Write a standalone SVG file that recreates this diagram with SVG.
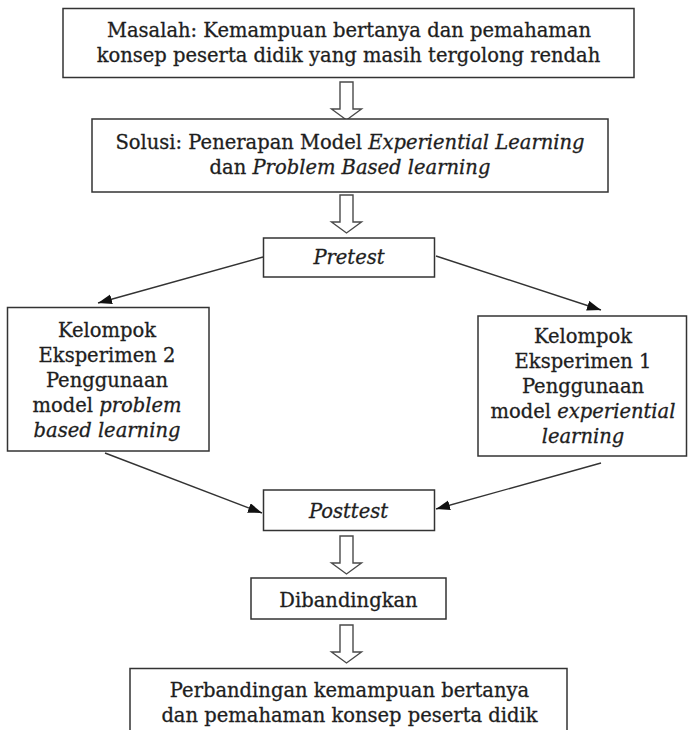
<svg xmlns="http://www.w3.org/2000/svg" width="688" height="730" viewBox="0 0 688 730">
  <defs>
    <style>
      .box { fill: #ffffff; stroke: #333333; stroke-width: 1.5; }
      .txt { font-family: "DejaVu Serif", "Liberation Serif", serif; font-size: 19.5px; fill: #1e1e1e; stroke: #1e1e1e; stroke-width: 0.3; text-anchor: middle; }
      .it { font-style: italic; }
      .blk { fill: #ffffff; stroke: #4a4a4a; stroke-width: 1.4; stroke-linejoin: miter; }
      .con { fill: none; stroke: #333333; stroke-width: 1.4; }
    </style>
    <marker id="ah" markerUnits="userSpaceOnUse" markerWidth="16" markerHeight="12" refX="14" refY="5" orient="auto">
      <path d="M0,0 L14,5 L0,10 Z" fill="#111111"/>
    </marker>
    <path id="blockArrow" d="M-6.5,0 L6.5,0 L6.5,27 L15,27 L0,38 L-15,27 L-6.5,27 Z"/>
  </defs>

  <rect width="688" height="730" fill="#ffffff"/>

  <g id="connectors">
    <use href="#blockArrow" class="blk" x="346.5" y="82"/>
    <use href="#blockArrow" class="blk" x="346.5" y="195"/>
    <use href="#blockArrow" class="blk" x="346.5" y="536"/>
    <use href="#blockArrow" class="blk" x="346.5" y="625"/>
    <line class="con" x1="263" y1="257" x2="98" y2="303" marker-end="url(#ah)"/>
    <line class="con" x1="436" y1="256" x2="601" y2="310" marker-end="url(#ah)"/>
    <line class="con" x1="105" y1="453" x2="262" y2="513" marker-end="url(#ah)"/>
    <line class="con" x1="601" y1="463" x2="436" y2="509" marker-end="url(#ah)"/>
  </g>

  <g id="masalah">
    <rect class="box" x="63" y="8.5" width="571" height="69"/>
    <text class="txt" x="349" y="37">Masalah: Kemampuan bertanya dan pemahaman</text>
    <text class="txt" x="348.5" y="62">konsep peserta didik yang masih tergolong rendah</text>
  </g>

  <g id="solusi">
    <rect class="box" x="92" y="119" width="516" height="73"/>
    <text class="txt" x="350" y="149">Solusi: Penerapan Model <tspan class="it">Experiential Learning</tspan></text>
    <text class="txt" x="350" y="174">dan <tspan class="it">Problem Based learning</tspan></text>
  </g>

  <g id="pretest">
    <rect class="box" x="263.5" y="238" width="171" height="39"/>
    <text class="txt it" x="349" y="264">Pretest</text>
  </g>

  <g id="eksperimen2">
    <rect class="box" x="7.5" y="307.5" width="201.5" height="143.5"/>
    <text class="txt" x="107" y="337">Kelompok</text>
    <text class="txt" x="107" y="362">Eksperimen 2</text>
    <text class="txt" x="107" y="387">Penggunaan</text>
    <text class="txt" x="107" y="412">model <tspan class="it">problem</tspan></text>
    <text class="txt it" x="107" y="437">based learning</text>
  </g>

  <g id="eksperimen1">
    <rect class="box" x="478" y="316" width="208.5" height="140"/>
    <text class="txt" x="583" y="343">Kelompok</text>
    <text class="txt" x="583" y="368">Eksperimen 1</text>
    <text class="txt" x="583" y="393">Penggunaan</text>
    <text class="txt" x="583" y="418">model <tspan class="it">experiential</tspan></text>
    <text class="txt it" x="583" y="443">learning</text>
  </g>

  <g id="posttest">
    <rect class="box" x="263.5" y="490" width="171" height="40.5"/>
    <text class="txt it" x="348.5" y="518">Posttest</text>
  </g>

  <g id="dibandingkan">
    <rect class="box" x="251" y="578" width="195" height="41"/>
    <text class="txt" x="348.5" y="607">Dibandingkan</text>
  </g>

  <g id="perbandingan">
    <rect class="box" x="130" y="668.5" width="437" height="80"/>
    <text class="txt" x="349.5" y="697">Perbandingan kemampuan bertanya</text>
    <text class="txt" x="349.5" y="722">dan pemahaman konsep peserta didik</text>
  </g>
</svg>
